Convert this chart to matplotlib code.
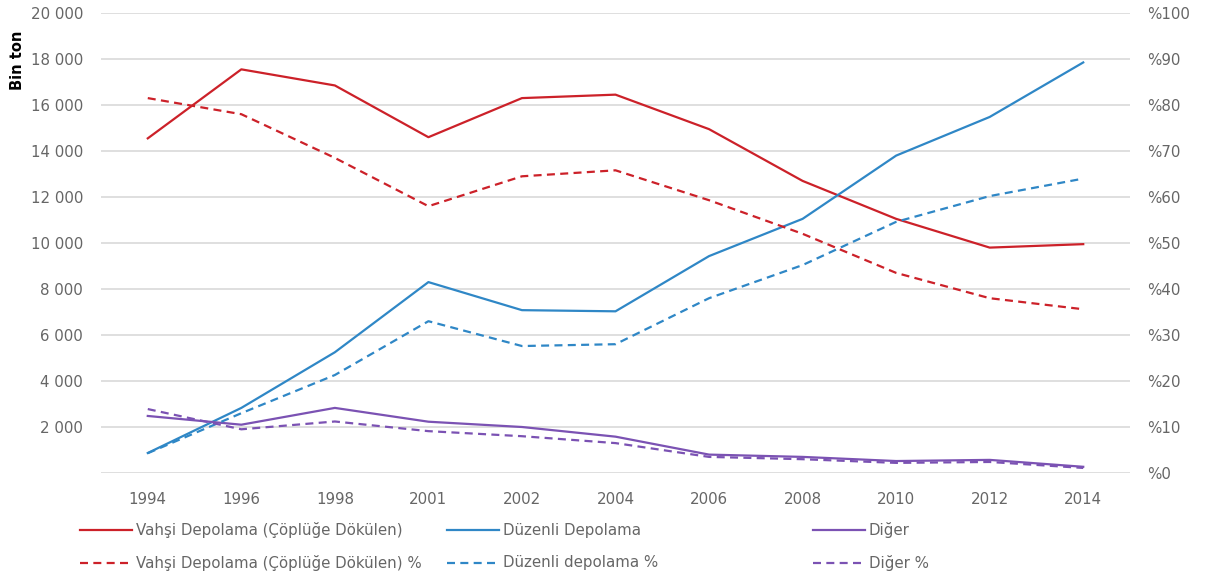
import matplotlib.pyplot as plt
from matplotlib.lines import Line2D

plt.rcParams['font.family'] = ['DejaVu Sans']

# Veriler (grafikten okunan yaklaşık değerler)
yillar = ['1994', '1996', '1998', '2001', '2002', '2004', '2006', '2008', '2010', '2012', '2014']
vahsi = [14550, 17550, 16850, 14600, 16300, 16450, 14950, 12700, 11050, 9800, 9950]
duzenli = [870, 2830, 5250, 8300, 7080, 7030, 9430, 11050, 13800, 15480, 17850]
diger = [2480, 2100, 2830, 2230, 2000, 1580, 800, 700, 520, 570, 270]
vahsi_yuzde = [81.5, 78.0, 68.5, 58.0, 64.5, 65.8, 59.3, 52.0, 43.5, 38.0, 35.6]
duzenli_yuzde = [4.3, 13.0, 21.3, 33.0, 27.6, 28.0, 38.0, 45.2, 54.6, 60.2, 64.0]
diger_yuzde = [13.9, 9.5, 11.2, 9.1, 8.0, 6.5, 3.5, 3.0, 2.2, 2.4, 1.1]

sol_ticks = list(range(0, 20001, 2000))
sol_etiket = [''] + [f"{v // 1000} {v % 1000:03d}" for v in sol_ticks[1:]]
sag_ticks = list(range(0, 101, 10))
sag_etiket = [f"%{v}" for v in sag_ticks]

kirmizi = '#cc2129'
mavi = '#2f87c6'
mor = '#7b52b3'
gri_yazi = '#666666'
kesik = (0, (3.6, 2.4))
yazi_boy = 10.8

fig = plt.figure(figsize=(12.08, 5.81), dpi=100)
ax = fig.add_axes([101 / 1208, 1 - 473 / 581, (1130 - 101) / 1208, (473 - 13) / 581])
ax2 = ax.twinx()

x = list(range(len(yillar)))
lw = 1.6

ax.plot(x, vahsi, color=kirmizi, lw=lw, zorder=3)
ax.plot(x, duzenli, color=mavi, lw=lw, zorder=3)
ax.plot(x, diger, color=mor, lw=lw, zorder=3)
ax2.plot(x, vahsi_yuzde, color=kirmizi, lw=lw, ls=kesik)
ax2.plot(x, duzenli_yuzde, color=mavi, lw=lw, ls=kesik)
ax2.plot(x, diger_yuzde, color=mor, lw=lw, ls=kesik)

ax.set_xlim(-0.5, len(yillar) - 0.5)
ax.set_ylim(0, 20000)
ax2.set_ylim(0, 100)

ax.set_yticks(sol_ticks)
ax.set_yticklabels(sol_etiket)
ax2.set_yticks(sag_ticks)
ax2.set_yticklabels(sag_etiket)
ax.set_xticks(x)
ax.set_xticklabels(yillar)

ax.grid(axis='y', color='#d9d9d9', lw=1.2)
ax.set_axisbelow(True)
for a in (ax, ax2):
    for s in a.spines.values():
        s.set_visible(False)
    a.tick_params(length=0, labelsize=yazi_boy, labelcolor=gri_yazi)
ax.tick_params(axis='y', pad=13)
ax2.tick_params(axis='y', pad=12)
ax.tick_params(axis='x', pad=14)

fig.text(17 / 1208, 1 - 60 / 581, 'Bin ton', rotation=90, ha='center', va='center',
         fontsize=10.5, fontweight='bold', color='black')

# Gösterge (elle yerleştirildi)
lejant = [
    (80, 530, kirmizi, '-', 'Vahşi Depolama (Çöplüğe Dökülen)'),
    (80, 563, kirmizi, kesik, 'Vahşi Depolama (Çöplüğe Dökülen) %'),
    (447, 530, mavi, '-', 'Düzenli Depolama'),
    (447, 563, mavi, kesik, 'Düzenli depolama %'),
    (813, 530, mor, '-', 'Diğer'),
    (813, 563, mor, kesik, 'Diğer %'),
]
for px, py, renk, stil, yazi in lejant:
    fy = 1 - py / 581
    fig.add_artist(Line2D([px / 1208, (px + 52) / 1208], [fy, fy], color=renk, lw=lw, ls=stil,
                          transform=fig.transFigure))
    fig.text((px + 56) / 1208, fy, yazi, ha='left', va='center', fontsize=yazi_boy, color=gri_yazi)

fig.savefig('out.png', dpi=100)
